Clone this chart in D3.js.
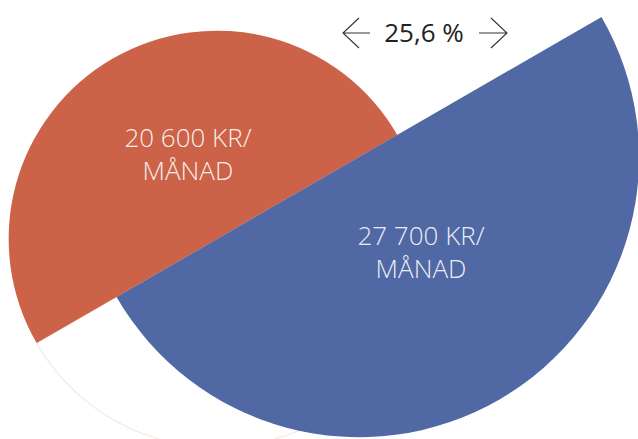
<!DOCTYPE html>
<html>
<head>
<meta charset="utf-8">
<script src="https://cdn.jsdelivr.net/npm/d3@7"></script>
<style>
  body { margin: 0; background: #fff; }
  svg { display: block; }
</style>
</head>
<body>
<script>
// salaries per month (kr)
const groups = ["kvinnor", "män"];
const salaries = [20600, 27700];
const labels = ["20 600 KR/", "27 700 KR/"];
const colors = ["#cc6348", "#5069a5"];

const w = 638;
const h = 439;

const svg = d3.select("body")
  .append("svg")
  .attr("width", w)
  .attr("height", h);

// radius proportional to salary
const r = d3.scaleLinear()
  .domain([0, d3.max(salaries)])
  .range([0, 280]);

// both half circles sit on the same diameter, tilted 30 degrees
const tilt = Math.PI / 3; // d3 arc angle of the upper right end
const dir = [Math.sin(tilt), -Math.cos(tilt)];
const bigCenter = [359, 157];
const gap = 164;
const centers = [
  [bigCenter[0] - dir[0] * gap, bigCenter[1] - dir[1] * gap],
  bigCenter
];

const arc = d3.arc().innerRadius(0);

// faint white other half of the small circle
svg.append("path")
  .attr("transform", `translate(${centers[0]})`)
  .attr("d", arc({outerRadius: r(salaries[0]), startAngle: tilt, endAngle: tilt + Math.PI}))
  .attr("fill", "#fff")
  .attr("stroke", "#f7e8e2")
  .attr("stroke-width", 1.2);

const halves = [
  {start: tilt - Math.PI, end: tilt},
  {start: tilt, end: tilt + Math.PI}
];

svg.selectAll("path.half")
  .data(salaries)
  .enter()
  .append("path")
  .attr("class", "half")
  .attr("transform", (d, i) => `translate(${centers[i]})`)
  .attr("d", (d, i) => arc({outerRadius: r(d), startAngle: halves[i].start, endAngle: halves[i].end}))
  .attr("fill", (d, i) => colors[i]);

// labels
const labelOffsets = [[-29, -92], [62, 88]];
const txt = svg.selectAll("text.lbl")
  .data(salaries)
  .enter()
  .append("text")
  .attr("class", "lbl")
  .attr("x", (d, i) => centers[i][0] + labelOffsets[i][0])
  .attr("y", (d, i) => centers[i][1] + labelOffsets[i][1])
  .attr("text-anchor", "middle")
  .attr("fill", "#fff")
  .attr("fill-opacity", 0.9)
  .style("font-family", "'Open Sans', sans-serif")
  .style("font-weight", 300)
  .style("font-size", "26px");

txt.append("tspan")
  .attr("x", (d, i) => centers[i][0] + labelOffsets[i][0])
  .text((d, i) => labels[i]);
txt.append("tspan")
  .attr("x", (d, i) => centers[i][0] + labelOffsets[i][0])
  .attr("dy", 33)
  .text("MÅNAD");

// difference in percent
const diff = (salaries[1] - salaries[0]) / salaries[1] * 100;
const pctText = d3.format(".1f")(diff).replace(".", ",") + " %";

const topG = svg.append("g").attr("transform", "translate(424,33)");
topG.append("text")
  .attr("y", 9)
  .attr("text-anchor", "middle")
  .attr("fill", "#222")
  .style("font-family", "'Open Sans', sans-serif")
  .style("font-size", "26px")
  .text(pctText);

const arrow = d3.line();
topG.append("path")
  .attr("d", arrow([[-65, -15], [-81, 0], [-65, 15]]) + arrow([[-81, 0], [-54, 0]]))
  .attr("fill", "none")
  .attr("stroke", "#333")
  .attr("stroke-width", 1.1);
topG.append("path")
  .attr("d", arrow([[67, -15], [83, 0], [67, 15]]) + arrow([[55, 0], [83, 0]]))
  .attr("fill", "none")
  .attr("stroke", "#333")
  .attr("stroke-width", 1.1);
</script>
</body>
</html>
